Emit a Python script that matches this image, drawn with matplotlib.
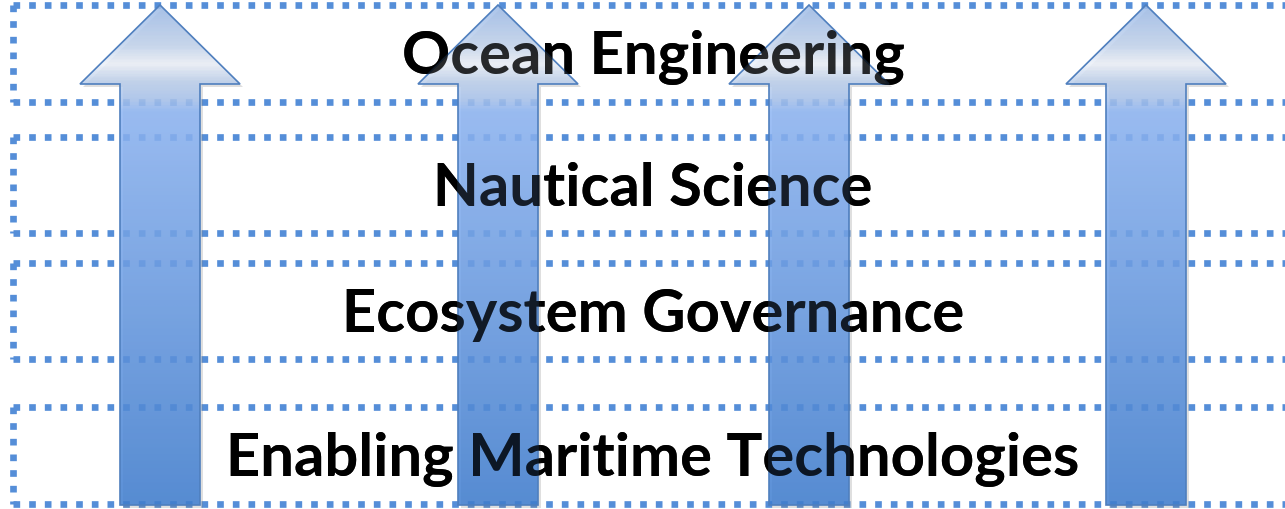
import numpy as np
import matplotlib
matplotlib.use("Agg")
from matplotlib import pyplot as plt
from matplotlib.patches import Polygon
from matplotlib.colors import LinearSegmentedColormap

# layers, from top to bottom
labels = ["Ocean Engineering", "Nautical Science", "Ecosystem Governance",
          "Enabling Maritime Technologies"]
band_top = [5, 137, 263, 407]
band_bottom = [102, 233, 359, 504]

# arrow centres (x) and their vertical extent
arrow_x = [160, 498, 809, 1146]
arrow_tip = 5
arrow_head_base = 84
arrow_bottom = 505

W, H = 1285, 509
line_color = "#558ed8"


def arrow_shape(cx):
    return [(cx, arrow_tip), (cx + 80, arrow_head_base), (cx + 40, arrow_head_base),
            (cx + 40, arrow_bottom), (cx - 40, arrow_bottom), (cx - 40, arrow_head_base),
            (cx - 80, arrow_head_base)]


fig = plt.figure(figsize=(W / 100, H / 100), dpi=100)
ax = fig.add_axes([0, 0, 1, 1])
ax.set_xlim(0, W)
ax.set_ylim(H, 0)
ax.axis("off")

# dotted band outlines
dots = dict(color=line_color, lw=4.8, linestyle=(0, (1.0, 1.35)),
            solid_capstyle="butt", dash_capstyle="butt", zorder=1)
for top, bot in zip(band_top, band_bottom):
    ax.plot([13, W + 10], [top, top], **dots)
    ax.plot([13, W + 10], [bot, bot], **dots)
    ax.plot([13, 13], [top, bot], **dots)

# labels: solid underneath, semi-transparent copy above the arrows
for lab, top, bot in zip(labels, band_top, band_bottom):
    for z, a in [(2, 1.0), (6, 0.8)]:
        ax.text(653, (top + bot) / 2 + 4, lab, ha="center", va="center",
                fontsize=43, fontweight="bold", family=["Lato", "DejaVu Sans"],
                color="black", alpha=a, zorder=z)

# gradient arrows
stops = [(0.0, "#9dbbe8"), (0.08, "#c4d5ee"), (0.115, "#eef2f9"), (0.15, "#bdd0ec"),
         (0.19, "#a6c2ee"), (0.21, "#8db5f4"), (1.0, "#3e7dd0")]
cmap = LinearSegmentedColormap.from_list("arrow", stops)
grad = np.linspace(0, 1, 400).reshape(-1, 1)

for cx in arrow_x:
    shadow = Polygon([(x + 3, y + 3) for x, y in arrow_shape(cx)], closed=True,
                     facecolor="#808080", edgecolor="none", alpha=0.25, zorder=3)
    ax.add_patch(shadow)
    poly = Polygon(arrow_shape(cx), closed=True, facecolor="none",
                   edgecolor="#4f7fbe", lw=1.2, zorder=5)
    ax.add_patch(poly)
    im = ax.imshow(grad, cmap=cmap, aspect="auto", alpha=0.85,
                   extent=(cx - 80, cx + 80, arrow_bottom, arrow_tip), zorder=4)
    im.set_clip_path(poly)

ax.set_xlim(0, W)
ax.set_ylim(H, 0)
fig.savefig("out.png", dpi=100, facecolor="white")
